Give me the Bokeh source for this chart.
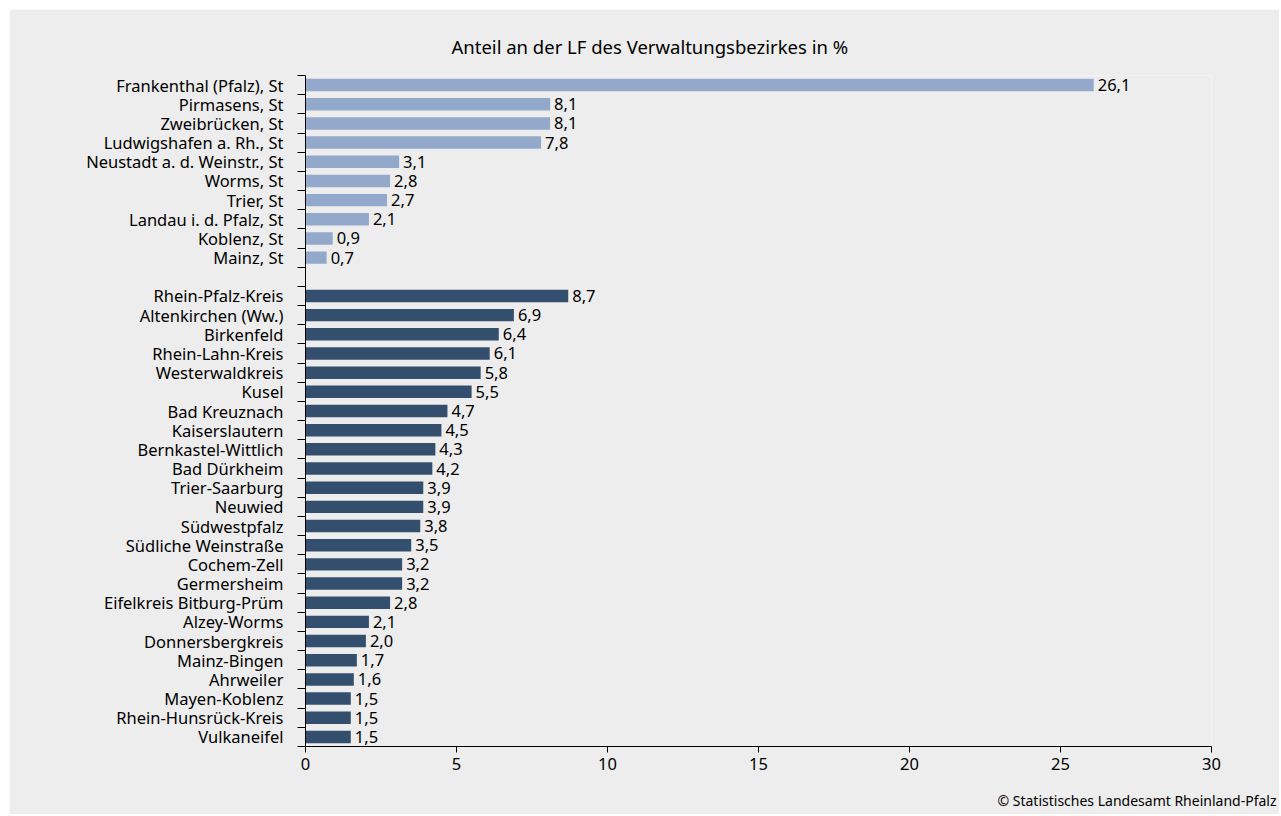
from bokeh.plotting import figure
from bokeh.models import Range1d, FixedTicker, Title, ColumnDataSource
from bokeh.embed import file_html
from bokeh.resources import INLINE
from bokeh.core.properties import value

staedte = ["Frankenthal (Pfalz), St", "Pirmasens, St", "Zweibrücken, St", "Ludwigshafen a. Rh., St",
           "Neustadt a. d. Weinstr., St", "Worms, St", "Trier, St", "Landau i. d. Pfalz, St",
           "Koblenz, St", "Mainz, St"]
staedte_werte = [26.1, 8.1, 8.1, 7.8, 3.1, 2.8, 2.7, 2.1, 0.9, 0.7]

kreise = ["Rhein-Pfalz-Kreis", "Altenkirchen (Ww.)", "Birkenfeld", "Rhein-Lahn-Kreis", "Westerwaldkreis",
          "Kusel", "Bad Kreuznach", "Kaiserslautern", "Bernkastel-Wittlich", "Bad Dürkheim",
          "Trier-Saarburg", "Neuwied", "Südwestpfalz", "Südliche Weinstraße", "Cochem-Zell",
          "Germersheim", "Eifelkreis Bitburg-Prüm", "Alzey-Worms", "Donnersbergkreis", "Mainz-Bingen",
          "Ahrweiler", "Mayen-Koblenz", "Rhein-Hunsrück-Kreis", "Vulkaneifel"]
kreise_werte = [8.7, 6.9, 6.4, 6.1, 5.8, 5.5, 4.7, 4.5, 4.3, 4.2, 3.9, 3.9, 3.8, 3.5, 3.2, 3.2, 2.8,
                2.1, 2.0, 1.7, 1.6, 1.5, 1.5, 1.5]

x_ticks = [0, 5, 10, 15, 20, 25, 30]
title_text = "Anteil an der LF des Verwaltungsbezirkes in %"
source_text = "© Statistisches Landesamt Rheinland-Pfalz"

FONT = "Noto Sans"
BG = "#EDEDED"
LIGHT = "#93A9CC"
DARK = "#344F6E"
FS = "16.5px"

n_slots = len(staedte) + 1 + len(kreise)
y_st = [i + 0.5 for i in range(len(staedte))]
y_kr = [len(staedte) + 1 + i + 0.5 for i in range(len(kreise))]

p = figure(width=1270, height=805, output_backend="svg", toolbar_location=None,
           x_range=Range1d(0, 30), y_range=Range1d(n_slots, 0),
           min_border_left=296, min_border_right=68, min_border_top=66, min_border_bottom=67)
p.margin = (9, 0, 0, 9)
p.background_fill_color = BG
p.border_fill_color = BG
p.outline_line_color = None
p.xgrid.visible = False
p.ygrid.visible = False

src_st = ColumnDataSource(dict(y=y_st, v=staedte_werte, lab=[f"{v:.1f}".replace(".", ",") for v in staedte_werte]))
src_kr = ColumnDataSource(dict(y=y_kr, v=kreise_werte, lab=[f"{v:.1f}".replace(".", ",") for v in kreise_werte]))

p.hbar(y="y", right="v", left=0, height=0.65, source=src_st, color=LIGHT, line_color=None)
p.hbar(y="y", right="v", left=0, height=0.65, source=src_kr, color=DARK, line_color=None)

for s in (src_st, src_kr):
    p.text(x="v", y="y", text="lab", source=s, x_offset=4, text_baseline="middle",
           text_font=value(FONT), text_font_size=FS, text_color="black")

# x axis
xa = p.xaxis[0]
xa.ticker = FixedTicker(ticks=x_ticks)
xa.major_tick_out = 6
xa.major_tick_in = 0
xa.minor_tick_out = 0
xa.minor_tick_in = 0
xa.axis_line_color = "black"
xa.major_tick_line_color = "black"
xa.major_label_text_font = FONT
xa.major_label_text_font_size = FS
xa.major_label_text_color = "black"
xa.major_label_standoff = 5

# y axis
ya = p.yaxis[0]
centers = y_st + y_kr
labels = staedte + kreise
ya.ticker = FixedTicker(ticks=centers, minor_ticks=list(range(n_slots + 1)))
ya.major_label_overrides = {c: l for c, l in zip(centers, labels)}
ya.major_tick_out = 0
ya.major_tick_in = 0
ya.minor_tick_out = 8
ya.minor_tick_in = 0
ya.minor_tick_line_color = "black"
ya.axis_line_color = "black"
ya.major_label_text_font = FONT
ya.major_label_text_font_size = FS
ya.major_label_text_color = "black"
ya.major_label_standoff = 14

# spacers (empty titles) to push the texts outward
p.add_layout(Title(text=" ", text_font_size="9px", standoff=0), "above")
p.add_layout(Title(text=title_text, align="left", offset=146, text_font=FONT, text_font_size="18.5px",
                   text_font_style="normal", text_color="black", standoff=10), "above")
p.add_layout(Title(text=" ", text_font_size="8px", standoff=0), "below")
p.add_layout(Title(text=source_text, align="right", offset=-65, text_font=FONT, text_font_size="14px",
                   text_font_style="normal", text_color="black", standoff=10), "below")

open("out.html", "w").write(file_html(p, INLINE))
